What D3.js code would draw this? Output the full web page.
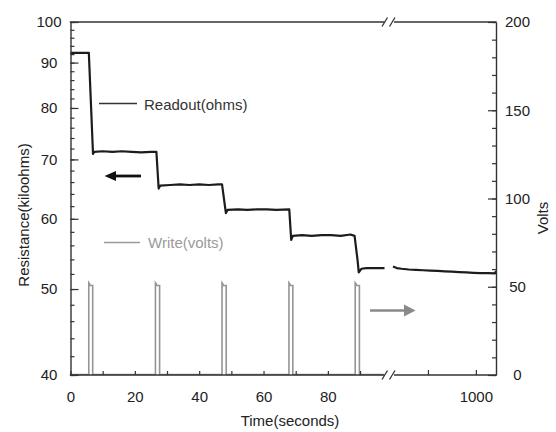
<!DOCTYPE html>
<html>
<head>
<meta charset="utf-8">
<script src="https://cdn.jsdelivr.net/npm/d3@7"></script>
<style>
  html, body { margin: 0; padding: 0; background: #fff; }
  svg { display: block; font-family: "Liberation Sans", Arial, sans-serif; }
</style>
</head>
<body>
<svg id="chart" width="556" height="432"></svg>
<script>
// ---------------- DATA ----------------
// Left axis (Resistance, kiloohms, log scale)
const leftMajorTicks = [40, 50, 60, 70, 80, 90, 100];
const leftMinorTicks = d3.range(40, 101, 2);
// Right axis (Volts)
const rightMajorTicks = [0, 50, 100, 150, 200];
const rightMinorTicks = d3.range(0, 201, 10);
// Bottom axis, first segment (seconds) and second segment after the break
const timeMajorTicks = [0, 20, 40, 60, 80];
const timeMinorTicks = d3.range(0, 99, 10);
const time2Ticks = [900, 1000];
const time2Labels = [1000];

// Readout (ohms -> kiloohms), segment before the break
const readoutTime1 = [0, 3, 5.7, 7.0, 7.4, 10, 13, 16, 19, 22, 25, 26.7, 27.4, 27.9, 31, 34, 37, 40, 43, 46, 47.1, 48.3, 48.8, 52, 55, 58, 61, 64, 68.0, 68.6, 69.1, 72, 75, 78, 81, 84, 87, 88.3, 89.2, 89.6, 90.4, 92, 95, 97.6];
const readoutValue1 = [92.3, 92.3, 92.3, 71.0, 71.4, 71.5, 71.4, 71.5, 71.4, 71.3, 71.4, 71.4, 64.9, 65.4, 65.5, 65.6, 65.5, 65.6, 65.5, 65.6, 65.6, 60.9, 61.4, 61.5, 61.4, 61.5, 61.5, 61.4, 61.5, 56.8, 57.4, 57.5, 57.4, 57.5, 57.5, 57.4, 57.6, 57.4, 54.0, 52.2, 52.7, 52.8, 52.8, 52.8];
// Readout, segment after the break
const readoutTime2 = [827, 835, 845, 860, 875, 890, 905, 920, 935, 950, 965, 980, 995, 1010, 1025, 1040, 1042];
const readoutValue2 = [53.0, 52.8, 52.7, 52.6, 52.55, 52.5, 52.45, 52.4, 52.35, 52.3, 52.25, 52.2, 52.15, 52.1, 52.1, 52.08, 52.4];

// Write pulses (volts)
const pulseStart = [5.68, 26.4, 47.1, 67.9, 88.5];
const pulseEnd = [6.9, 27.7, 48.4, 69.1, 89.8];
const pulsePeak = [52, 52, 52, 52, 52];
const pulseShoulder = [50.4, 50.4, 50.4, 50.4, 50.4];
const writeEndTime = 97.3;

// ---------------- CHART ----------------
const svg = d3.select("#chart");
const mLeft = 70.5, mRight = 496, mTop = 22, mBottom = 375;
const breakX = 389;

const x1 = d3.scaleLinear().domain([0, 99]).range([mLeft, breakX]);
const x2 = d3.scaleLinear().domain([825, 1042]).range([392, mRight]);
const yL = d3.scaleLog().domain([40, 100]).range([mBottom, mTop]);
const yR = d3.scaleLinear().domain([0, 200]).range([mBottom, mTop]);

const axisColor = "#333";
const fontSize = 15;

// write (volts) series, built from pulse arrays
const writePts = [[0, 0]];
pulseStart.forEach((s, i) => {
  writePts.push([s, 0], [s, pulsePeak[i]], [s + 0.3, pulsePeak[i] - 0.8], [s + 0.38, pulseShoulder[i]], [pulseEnd[i], pulseShoulder[i]], [pulseEnd[i], 0]);
});
writePts.push([writeEndTime, 0]);

svg.append("path")
  .datum(writePts)
  .attr("fill", "none")
  .attr("stroke", "#959595")
  .attr("stroke-width", 1.6)
  .attr("d", d3.line().x(d => x1(d[0])).y(d => yR(d[1]) - 0.5));

// readout lines
const lineL1 = d3.line().x((d, i) => x1(readoutTime1[i])).y((d, i) => yL(readoutValue1[i]));
svg.append("path")
  .datum(readoutTime1)
  .attr("fill", "none")
  .attr("stroke", "#1c1c1c")
  .attr("stroke-width", 2.2)
  .attr("stroke-linejoin", "round")
  .attr("d", lineL1);

const lineL2 = d3.line().x((d, i) => x2(readoutTime2[i])).y((d, i) => yL(readoutValue2[i]));
svg.append("path")
  .datum(readoutTime2)
  .attr("fill", "none")
  .attr("stroke", "#1c1c1c")
  .attr("stroke-width", 2.2)
  .attr("stroke-linejoin", "round")
  .attr("d", lineL2);

// --- axes ---
function styleAxis(g) {
  g.selectAll("line").attr("stroke", axisColor).attr("stroke-width", 1.2);
  g.selectAll("path.domain").attr("stroke", axisColor).attr("stroke-width", 1.4);
  g.selectAll("text").attr("fill", "#222").attr("font-size", fontSize).attr("font-family", "Liberation Sans, Arial, sans-serif");
}

// left
const gLmin = svg.append("g").attr("transform", `translate(${mLeft},0)`)
  .call(d3.axisLeft(yL).tickValues(leftMinorTicks).tickSize(-4).tickSizeOuter(0).tickFormat(""));
styleAxis(gLmin);
const gLmaj = svg.append("g").attr("transform", `translate(${mLeft},0)`)
  .call(d3.axisLeft(yL).tickValues(leftMajorTicks).tickSize(-8).tickSizeOuter(0).tickFormat(d3.format("d")));
gLmaj.select("path.domain").remove();
styleAxis(gLmaj);
gLmaj.selectAll("text").attr("text-anchor", "middle").attr("x", -21.5);

// right
const gRmin = svg.append("g").attr("transform", `translate(${mRight},0)`)
  .call(d3.axisRight(yR).tickValues(rightMinorTicks).tickSize(-4).tickSizeOuter(0).tickFormat(""));
styleAxis(gRmin);
const gRmaj = svg.append("g").attr("transform", `translate(${mRight},0)`)
  .call(d3.axisRight(yR).tickValues(rightMajorTicks).tickSize(-8).tickSizeOuter(0).tickFormat(d3.format("d")));
gRmaj.select("path.domain").remove();
styleAxis(gRmaj);
gRmaj.selectAll("text").attr("text-anchor", "middle").attr("x", 21.5);

// bottom, segment 1
const gB1 = svg.append("g").attr("transform", `translate(0,${mBottom})`)
  .call(d3.axisBottom(x1).tickValues(timeMinorTicks).tickSize(-4).tickPadding(16)
    .tickFormat(d => timeMajorTicks.includes(d) ? d3.format("d")(d) : ""));
gB1.select("path.domain").remove();
styleAxis(gB1);
// bottom, segment 2
const gB2 = svg.append("g").attr("transform", `translate(0,${mBottom})`)
  .call(d3.axisBottom(x2).tickValues(time2Ticks).tickSize(-5).tickPadding(16)
    .tickFormat(d => time2Labels.includes(d) ? d3.format("d")(d) : ""));
gB2.select("path.domain").remove();
styleAxis(gB2);

// frame lines with break
const frame = svg.append("g").attr("stroke", axisColor).attr("stroke-width", 1.4).attr("fill", "none");
[mTop, mBottom].forEach(yy => {
  frame.append("line").attr("x1", mLeft - 0.7).attr("x2", 384.5).attr("y1", yy).attr("y2", yy);
  frame.append("line").attr("x1", 394).attr("x2", mRight + 0.7).attr("y1", yy).attr("y2", yy);
  frame.append("line").attr("x1", 382).attr("x2", 387.5).attr("y1", yy + 4.5).attr("y2", yy - 4.5).attr("stroke-width", 1.3);
  frame.append("line").attr("x1", 389.5).attr("x2", 395).attr("y1", yy + 4.5).attr("y2", yy - 4.5).attr("stroke-width", 1.3);
});

// --- legend ---
svg.append("line").attr("x1", 99).attr("x2", 137).attr("y1", 103.5).attr("y2", 103.5)
  .attr("stroke", "#333").attr("stroke-width", 1.3);
svg.append("text").attr("x", 144).attr("y", 109.5).attr("font-size", fontSize).attr("fill", "#333")
  .text("Readout(ohms)");
svg.append("line").attr("x1", 104).attr("x2", 140).attr("y1", 242.5).attr("y2", 242.5)
  .attr("stroke", "#9a9a9a").attr("stroke-width", 1.3);
svg.append("text").attr("x", 148).attr("y", 248).attr("font-size", fontSize).attr("fill", "#9a9a9a")
  .text("Write(volts)");

// --- arrows ---
svg.append("line").attr("x1", 141).attr("x2", 112).attr("y1", 176).attr("y2", 176)
  .attr("stroke", "#111").attr("stroke-width", 2.8);
svg.append("path").attr("d", "M104.5,176 L116,171 L116,181 Z").attr("fill", "#111");

svg.append("line").attr("x1", 370).attr("x2", 407).attr("y1", 310.5).attr("y2", 310.5)
  .attr("stroke", "#8a8a8a").attr("stroke-width", 2.6);
svg.append("path").attr("d", "M415.5,310.5 L404,304.5 L404,316.5 Z").attr("fill", "#8a8a8a");

// --- axis titles ---
svg.append("text").attr("transform", "translate(29,215) rotate(-90)")
  .attr("text-anchor", "middle").attr("font-size", fontSize).attr("fill", "#222")
  .text("Resistance(kiloohms)");
svg.append("text").attr("transform", "translate(548,218) rotate(-90)")
  .attr("text-anchor", "middle").attr("font-size", fontSize).attr("fill", "#222")
  .text("Volts");
svg.append("text").attr("x", 290).attr("y", 426)
  .attr("text-anchor", "middle").attr("font-size", fontSize).attr("fill", "#222")
  .text("Time(seconds)");
</script>
</body>
</html>
